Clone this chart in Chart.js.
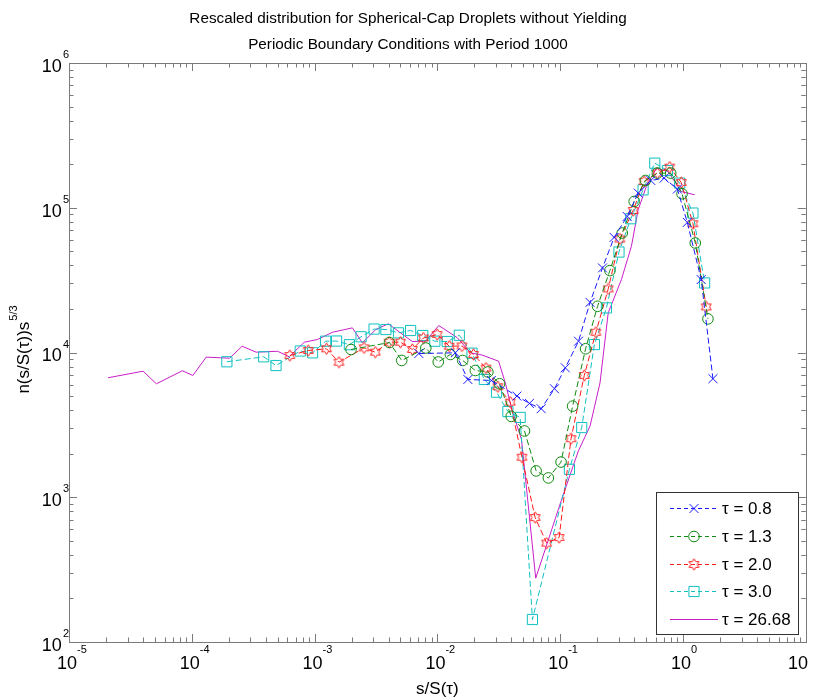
<!DOCTYPE html>
<html><head><meta charset="utf-8">
<script src="https://cdn.jsdelivr.net/npm/chart.js@4.4.1/dist/chart.umd.min.js"></script>
<style>html,body{margin:0;padding:0;background:#fff;}#wrap{width:814px;height:700px;position:relative;}</style>
</head><body><div id="wrap"><canvas id="c" width="814" height="700"></canvas></div>
<script>
// ---- data ----
const titleLines = ['Rescaled distribution for Spherical-Cap Droplets without Yielding', 'Periodic Boundary Conditions with Period 1000'];
const xLabel = 's/S(\u03c4)';
const yLabelMain = 'n(s/S(\u03c4))s';
const yLabelSup = '5/3';
const xTickExps = [-5, -4, -3, -2, -1, 0, 1];
const yTickExps = [2, 3, 4, 5, 6];
const seriesLabels = ['\u03c4 = 0.8', '\u03c4 = 1.3', '\u03c4 = 2.0', '\u03c4 = 3.0', '\u03c4 = 26.68'];

const xTau08 = [0.00706,0.0140,0.0177,0.0275,0.0444,0.0562,0.0700,0.0898,0.110,0.141,0.175,0.221,0.275,0.351,0.432,0.547,0.702,0.900,1.084,1.407,1.753];
const yTau08 = [9840,9950,6510,6410,5000,4450,4090,5620,7840,11970,22200,38400,62400,87100,126300,154300,160200,134600,79200,31900,6590];

const xTau13 = [0.00198,0.00407,0.00512,0.00805,0.01016,0.01276,0.01607,0.02037,0.02576,0.03206,0.0399,0.0512,0.0637,0.0801,0.1016,0.1262,0.161,0.2014,0.254,0.320,0.400,0.494,0.618,0.794,0.982,1.259,1.596];
const yTau13 = [10490,11720,8810,10740,8600,9690,8810,7510,7340,6080,3620,2870,1520,1360,1750,4260,10610,20860,36800,66900,110500,154300,173500,173500,124900,57100,17070];

const xTau20 = [0.000629,0.000887,0.00125,0.00158,0.00253,0.00312,0.00404,0.00501,0.00625,0.00769,0.00995,0.0125,0.01585,0.0197,0.0249,0.0311,0.0392,0.0488,0.0625,0.0776,0.098,0.1225,0.157,0.1954,0.246,0.306,0.393,0.482,0.618,0.780,0.968,1.205,1.546];
const yTau20 = [9530,10320,10610,8570,10770,10050,11780,11780,10490,12590,13310,11050,11090,9690,7800,5800,4540,1890,724,482,527,2540,6940,13800,27500,60800,95800,151800,173500,190800,149400,77600,20650];

const xTau30 = [0.000193,0.000385,0.000485,0.000764,0.000962,0.00123,0.00151,0.00192,0.00239,0.00305,0.00381,0.00482,0.00605,0.0076,0.00953,0.01202,0.01508,0.01914,0.0241,0.0303,0.0375,0.0472,0.0594,0.1189,0.1497,0.1898,0.238,0.301,0.376,0.473,0.589,0.747,0.940,1.205,1.500];
const yTau30 = [8630,9340,8130,10240,9950,11970,12000,11320,12840,14520,14410,13670,14190,13100,11970,11910,13160,9890,6510,5320,3910,3560,143,1560,3030,11350,20330,49460,84000,133000,203300,180800,148000,91900,30240];

const xTau2668 = [2.08e-5,4.01e-5,5.15e-5,8.38e-5,1.02e-4,1.31e-4,2.03e-4,2.57e-4,3.34e-4,5.0e-4,6.22e-4,8.24e-4,1.057e-3,1.40e-3,2.03e-3,2.45e-3,3.15e-3,3.98e-3,6.24e-3,8.0e-3,0.01026,0.01445,0.01866,0.02307,0.0315,0.0357,0.0404,0.0484,0.0632,0.1028,0.1406,0.175,0.211,0.246,0.315,0.380,0.4315,0.503,0.607,0.755,0.968,1.245];
const yTau2668 = [6690,7430,6080,7480,6940,9290,9130,11050,10050,10200,9340,11780,12300,13800,14800,11670,14410,15780,11910,11970,15350,12690,9930,9610,8710,6180,4040,2510,276,968,2090,3100,6180,18790,31900,54100,96900,140300,187800,177900,129500,122900];

// ---- styling ----
const FONT = '"Liberation Sans", Arial, Helvetica, sans-serif';
const C_BLUE = '#1a1aff', C_GREEN = '#108a10', C_RED = '#ff1a1a', C_CYAN = '#10c0c0', C_MAG = '#c81ec8';

function makeHexagram(color, size) {
  const c = document.createElement('canvas');
  c.width = size; c.height = size;
  const g = c.getContext('2d');
  g.strokeStyle = color; g.lineWidth = 1;
  const cx = size / 2, cy = size / 2, R = size / 2 - 0.8, r = R / Math.sqrt(3);
  g.beginPath();
  for (let k = 0; k < 12; k++) {
    const a = -Math.PI / 2 + k * Math.PI / 6;
    const rad = (k % 2 === 0) ? R : r;
    const px = cx + rad * Math.cos(a), py = cy + rad * Math.sin(a);
    if (k === 0) g.moveTo(px, py); else g.lineTo(px, py);
  }
  g.closePath(); g.stroke();
  return c;
}
const hexStar = makeHexagram(C_RED, 13);

function pts(xs, ys) { return xs.map((x, i) => ({ x: x, y: ys[i] })); }

const dash = [6, 3];
const datasets = [
  { label: seriesLabels[0], data: pts(xTau08, yTau08), borderColor: C_BLUE, borderDash: dash, pointStyle: 'crossRot', pointRadius: 6.3, pointBorderColor: C_BLUE },
  { label: seriesLabels[1], data: pts(xTau13, yTau13), borderColor: C_GREEN, borderDash: dash, pointStyle: 'circle', pointRadius: 5.3, pointBorderColor: C_GREEN },
  { label: seriesLabels[2], data: pts(xTau20, yTau20), borderColor: C_RED, borderDash: dash, pointStyle: hexStar, pointRadius: 6, pointBorderColor: C_RED },
  { label: seriesLabels[3], data: pts(xTau30, yTau30), borderColor: C_CYAN, borderDash: dash, pointStyle: 'rect', pointRadius: 7.2, pointBorderColor: C_CYAN },
  { label: seriesLabels[4], data: pts(xTau2668, yTau2668), borderColor: C_MAG, borderDash: [], pointStyle: 'circle', pointRadius: 0, pointBorderColor: C_MAG }
].map(d => Object.assign({ borderWidth: 1, fill: false, tension: 0, pointBorderWidth: 1, pointBackgroundColor: 'rgba(0,0,0,0)', pointHoverRadius: 0 }, d));

const matlabAxes = {
  id: 'matlabAxes',
  beforeDatasetsDraw(chart) {
    const ctx = chart.ctx, a = chart.chartArea, xs = chart.scales.x, ys = chart.scales.y;
    ctx.save();
    ctx.strokeStyle = '#7a7a7a'; ctx.lineWidth = 1;
    ctx.strokeRect(Math.round(a.left) + 0.5, Math.round(a.top) + 0.5, Math.round(a.right - a.left), Math.round(a.bottom - a.top));
    ctx.beginPath();
    for (let e = xTickExps[0]; e < xTickExps[xTickExps.length - 1]; e++) {
      for (let m = 1; m <= 9; m++) {
        const v = m * Math.pow(10, e);
        const px = Math.round(xs.getPixelForValue(v)) + 0.5;
        const L = m === 1 ? 8 : 4.5;
        ctx.moveTo(px, a.bottom); ctx.lineTo(px, a.bottom - L);
        ctx.moveTo(px, a.top); ctx.lineTo(px, a.top + L);
      }
    }
    for (let e = yTickExps[0]; e < yTickExps[yTickExps.length - 1]; e++) {
      for (let m = 1; m <= 9; m++) {
        const v = m * Math.pow(10, e);
        const py = Math.round(ys.getPixelForValue(v)) + 0.5;
        const L = m === 1 ? 8 : 4.5;
        ctx.moveTo(a.left, py); ctx.lineTo(a.left + L, py);
        ctx.moveTo(a.right, py); ctx.lineTo(a.right - L, py);
      }
    }
    ctx.stroke();
    ctx.restore();
  },
  afterDraw(chart) {
    const ctx = chart.ctx, a = chart.chartArea, xs = chart.scales.x, ys = chart.scales.y;
    const cx = (a.left + a.right) / 2;
    ctx.save();
    ctx.fillStyle = '#000';
    // title
    ctx.font = '15.3px ' + FONT; ctx.textAlign = 'center'; ctx.textBaseline = 'middle';
    ctx.fillText(titleLines[0], 408, 19);
    ctx.fillText(titleLines[1], 408, 45);
    // x tick labels
    xTickExps.forEach((e, i) => {
      const last = i === xTickExps.length - 1;
      let px = xs.getPixelForValue(Math.pow(10, e));
      if (last) px = Math.min(px, 800);
      ctx.font = '18px ' + FONT; ctx.textAlign = 'center'; ctx.textBaseline = 'middle';
      const w = ctx.measureText('10').width;
      ctx.fillText('10', px - 2, a.bottom + 22);
      if (!last) {
        ctx.font = '11px ' + FONT; ctx.textAlign = 'left';
        ctx.fillText(String(e), px - 2 + w / 2, a.bottom + 8);
      }
    });
    // y tick labels
    yTickExps.forEach(e => {
      const py = ys.getPixelForValue(Math.pow(10, e));
      ctx.font = '11px ' + FONT; ctx.textAlign = 'right'; ctx.textBaseline = 'middle';
      const supRight = a.left;
      const sw = ctx.measureText(String(e)).width;
      ctx.fillText(String(e), supRight, py - 8);
      ctx.font = '18px ' + FONT;
      ctx.fillText('10', supRight - sw - 1, py + 4);
    });
    // axis labels
    ctx.font = '17px ' + FONT; ctx.textAlign = 'center'; ctx.textBaseline = 'middle';
    ctx.fillText(xLabel, cx, 689);
    ctx.save();
    ctx.translate(22, 350);
    ctx.rotate(-Math.PI / 2);
    ctx.font = '17px ' + FONT;
    const mw = ctx.measureText(yLabelMain).width;
    ctx.font = '11px ' + FONT;
    const sw2 = ctx.measureText(yLabelSup).width;
    const start = -(mw + sw2) / 2;
    ctx.textAlign = 'left';
    ctx.font = '17px ' + FONT;
    ctx.fillText(yLabelMain, start, 2);
    ctx.font = '11px ' + FONT;
    ctx.fillText(yLabelSup, start + mw + 1, -8);
    ctx.restore();
    // legend
    const bx = 656.5, by = 492.5, bw = 142, bh = 142;
    ctx.fillStyle = '#fff'; ctx.fillRect(bx, by, bw, bh);
    ctx.strokeStyle = '#333'; ctx.lineWidth = 1; ctx.strokeRect(bx, by, bw, bh);
    const rowY = [508, 536, 564, 591, 619];
    chart.data.datasets.forEach((ds, i) => {
      const y = rowY[i];
      ctx.save();
      ctx.strokeStyle = ds.borderColor; ctx.lineWidth = 1;
      ctx.setLineDash(ds.borderDash && ds.borderDash.length ? [4, 3] : []);
      ctx.beginPath(); ctx.moveTo(670, y + 0.5); ctx.lineTo(718, y + 0.5); ctx.stroke();
      ctx.setLineDash([]);
      if (ds.pointRadius > 0) {
        ctx.strokeStyle = ds.pointBorderColor; ctx.fillStyle = 'rgba(0,0,0,0)';
        Chart.helpers.drawPoint(ctx, { pointStyle: ds.pointStyle, radius: ds.pointRadius, rotation: 0, borderWidth: 1 }, 694, y + 0.5);
      }
      ctx.restore();
      ctx.fillStyle = '#000'; ctx.font = '17px ' + FONT; ctx.textAlign = 'left'; ctx.textBaseline = 'middle';
      ctx.fillText(ds.label, 722, y + 1);
    });
    ctx.restore();
  }
};

new Chart(document.getElementById('c'), {
  type: 'line',
  data: { datasets: datasets },
  options: {
    responsive: false, animation: false, devicePixelRatio: 1,
    layout: { padding: { left: 69, right: 7, top: 63, bottom: 58 } },
    scales: {
      x: { type: 'logarithmic', min: 1e-5, max: 10, display: false },
      y: { type: 'logarithmic', min: 1e2, max: 1e6, display: false }
    },
    plugins: { legend: { display: false }, title: { display: false }, tooltip: { enabled: false } },
    events: []
  },
  plugins: [matlabAxes]
});
</script>
</body></html>
